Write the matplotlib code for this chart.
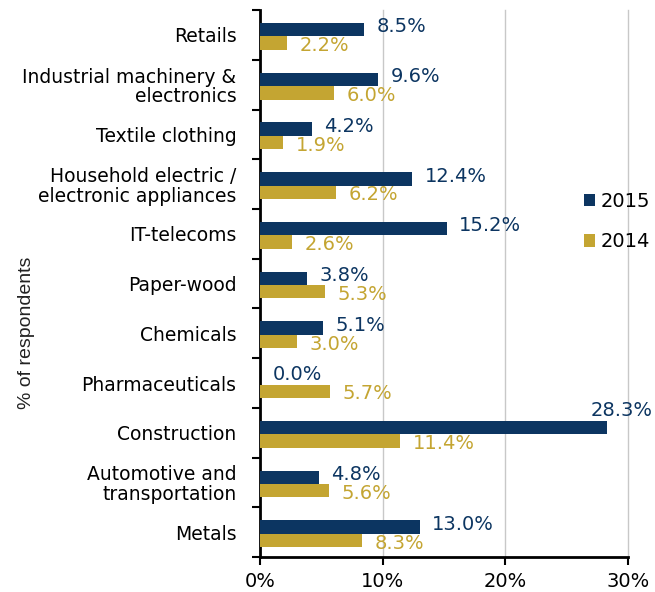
import matplotlib
matplotlib.use("Agg")
import matplotlib.pyplot as plt
import numpy as np

plt.rcParams["font.family"] = ["DejaVu Sans"]

# Data
categories = ["Retails", "Industrial machinery &\nelectronics", "Textile clothing",
              "Household electric /\nelectronic appliances", "IT-telecoms", "Paper-wood",
              "Chemicals", "Pharmaceuticals", "Construction",
              "Automotive and\ntransportation", "Metals"]
v2015 = [8.5, 9.6, 4.2, 12.4, 15.2, 3.8, 5.1, 0.0, 28.3, 4.8, 13.0]
v2014 = [2.2, 6.0, 1.9, 6.2, 2.6, 5.3, 3.0, 5.7, 11.4, 5.6, 8.3]
xticks = [0, 10, 20, 30]

navy = "#0c3561"
gold = "#c4a532"

fig = plt.figure(figsize=(6.55, 5.92), dpi=100)
ax = fig.add_axes([0.397, 0.059, 0.562, 0.924])

y = np.arange(len(categories))
h = 0.27
ax.barh(y - h / 2 + 0.03, v2015, height=h, color=navy, label="2015", zorder=3)
ax.barh(y + h / 2 + 0.03, v2014, height=h, color=gold, label="2014", zorder=3)

# value labels
for i, (a, b) in enumerate(zip(v2015, v2014)):
    if a > 25:
        ax.annotate(f"{a:.1f}%", (a, i - h / 2), xytext=(10, 4), textcoords="offset points",
                    ha="center", va="bottom", color=navy, fontsize=14)
    else:
        ax.annotate(f"{a:.1f}%", (a, i - h / 2), xytext=(9, 1), textcoords="offset points",
                    ha="left", va="center", color=navy, fontsize=14)
    ax.annotate(f"{b:.1f}%", (b, i + h / 2), xytext=(9, -3), textcoords="offset points",
                ha="left", va="center", color=gold, fontsize=14)

ax.set_ylim(len(categories) - 0.5, -0.5)
ax.set_xlim(0, 30)
ax.set_yticks(y)
ax.set_yticklabels(categories, fontsize=13.5, ha="right", linespacing=1.05)
ax.tick_params(axis="y", which="major", length=0, pad=17)
ax.set_yticks(np.arange(-0.5, len(categories)), minor=True)
ax.tick_params(axis="y", which="minor", length=6, width=1.5, direction="out")

ax.set_xticks(xticks)
ax.set_xticklabels([f"{t}%" for t in xticks], fontsize=14)
ax.tick_params(axis="x", length=6, width=1.5, pad=5)

ax.grid(axis="x", color="#c8c8c8", linewidth=1, zorder=0)
for gl in ax.get_xgridlines():
    gl.set_clip_on(False)
for s in ["top", "right"]:
    ax.spines[s].set_visible(False)
for s in ["left", "bottom"]:
    ax.spines[s].set_linewidth(2)
    ax.spines[s].set_color("black")

ax.set_ylabel("% of respondents", fontsize=14, color="#222222", family="Liberation Sans")
ax.yaxis.set_label_coords(-0.61, 0.41)

leg = ax.legend(loc="center left", bbox_to_anchor=(0.879, 0.613), frameon=False,
                fontsize=14, handlelength=0.6, handleheight=0.6, handletextpad=0.3,
                labelspacing=1.1, borderaxespad=0, borderpad=0)

fig.savefig("out.png", dpi=100)
